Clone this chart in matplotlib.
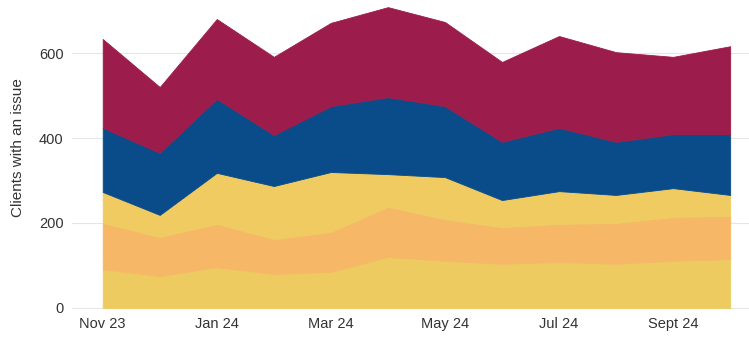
import numpy as np
import matplotlib
matplotlib.use('Agg')
import matplotlib.pyplot as plt

plt.rcParams['font.family'] = ['Liberation Sans', 'DejaVu Sans']

months = ['Nov 23', 'Dec 23', 'Jan 24', 'Feb 24', 'Mar 24', 'Apr 24',
          'May 24', 'Jun 24', 'Jul 24', 'Aug 24', 'Sept 24', 'Oct 24']

# stacked series, bottom to top
band1 = [91, 75, 96, 80, 85, 120, 111, 104, 108, 104, 111, 115]
band2 = [109, 92, 102, 82, 94, 118, 98, 86, 90, 96, 103, 102]
band3 = [73, 52, 120, 125, 141, 77, 99, 64, 77, 66, 68, 49]
band4 = [151, 146, 174, 120, 155, 181, 167, 137, 149, 125, 127, 143]
band5 = [209, 155, 188, 184, 196, 212, 198, 188, 216, 211, 182, 207]

colors = ['#EDCB60', '#F6B866', '#EFCB62', '#0A4B8A', '#9C1C4B']

x = np.arange(len(months))

fig = plt.figure(figsize=(7.49, 3.37), dpi=100)
ax = fig.add_axes([0.096, 0.076, 0.904, 0.918])
polys = ax.stackplot(x, band1, band2, band3, band4, band5, colors=colors, zorder=2)
# hide the seams between bands
for p, c in zip(polys, colors):
    p.set_edgecolor(c)
    p.set_linewidth(0.6)

ax.set_xlim(-0.54, 11.33)
ax.set_ylim(-8, 720)
ax.set_yticks([0, 200, 400, 600])
ax.set_xticks(x[::2])
ax.set_xticklabels(months[::2])
ax.grid(axis='y', color='#E6E6E6', linewidth=0.8, zorder=0)
ax.set_axisbelow(True)
for s in ax.spines.values():
    s.set_visible(False)
ax.tick_params(axis='both', length=0, labelsize=10.5, colors='#333333')
ax.tick_params(axis='y', pad=6)
ax.tick_params(axis='x', pad=4)
ax.set_ylabel('Clients with an issue', fontsize=11, color='#333333')
ax.yaxis.set_label_coords(-0.07, 0.53)

fig.savefig('out.png', dpi=100)
